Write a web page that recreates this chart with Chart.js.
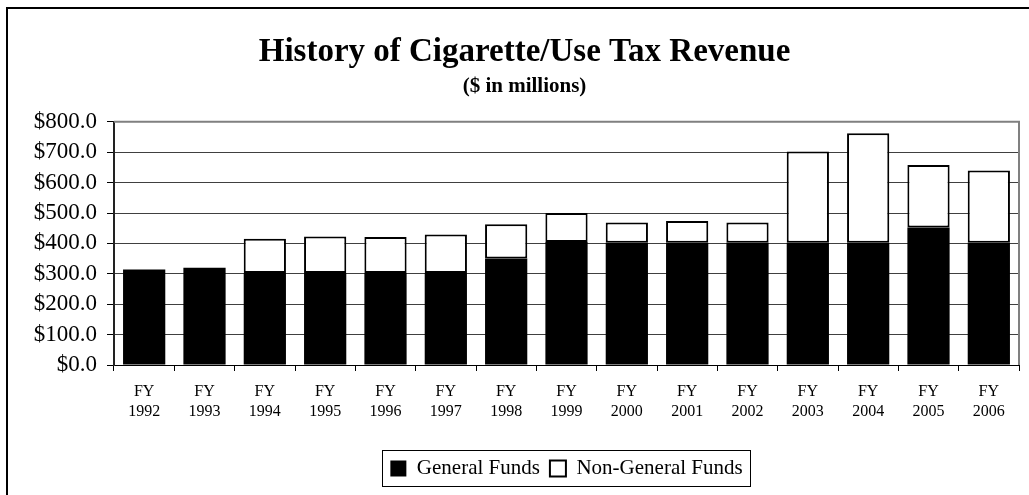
<!DOCTYPE html>
<html>
<head>
<meta charset="utf-8">
<script src="https://cdn.jsdelivr.net/npm/chart.js@4.4.0/dist/chart.umd.min.js"></script>
<style>
  html, body { margin: 0; padding: 0; background: #fff; }
  #wrap { position: relative; width: 1029px; height: 495px; }
</style>
</head>
<body>
<div id="wrap"><canvas id="myChart" width="1029" height="495"></canvas></div>
<script>
// dane wykresu
const years = ['1992', '1993', '1994', '1995', '1996', '1997', '1998', '1999', '2000', '2001', '2002', '2003', '2004', '2005', '2006'];
const generalFunds = [314, 320, 303, 303, 303, 303, 350, 405, 402, 402, 402, 402, 402, 452, 402];
const nonGeneralFunds = [null, null, 112, 120, 118, 126, 113, 95, 67, 72, 67, 300, 360, 206, 238];
const yTicks = [0, 100, 200, 300, 400, 500, 600, 700, 800];

const labels = years.map(y => ['FY', y]);
const serif = 'Liberation Serif, Times New Roman, serif';

// ramka całego obrazka (tylko góra i lewa strona)
const framePlugin = {
  id: 'frame',
  beforeDraw(chart) {
    const ctx = chart.ctx;
    ctx.save();
    ctx.fillStyle = '#fff';
    ctx.fillRect(0, 0, chart.width, chart.height);
    ctx.strokeStyle = '#000';
    ctx.lineWidth = 2;
    ctx.beginPath();
    ctx.moveTo(7, chart.height);
    ctx.lineTo(7, 8);
    ctx.lineTo(chart.width, 8);
    ctx.stroke();
    ctx.restore();
  },
  beforeDatasetsDraw(chart) {
    // szara ramka obszaru wykresu (góra i prawa)
    const a = chart.chartArea;
    const ctx = chart.ctx;
    ctx.save();
    ctx.strokeStyle = '#808080';
    ctx.lineWidth = 2;
    ctx.beginPath();
    ctx.moveTo(a.left, a.top);
    ctx.lineTo(a.right, a.top);
    ctx.lineTo(a.right, a.bottom);
    ctx.stroke();
    ctx.restore();
  },
  afterDraw(chart) {
    // obramowanie legendy
    const boxes = chart.legend.legendHitBoxes;
    if (!boxes || !boxes.length) return;
    const first = boxes[0];
    const last = boxes[boxes.length - 1];
    const left = first.left - 8;
    const right = last.left + last.width + 8;
    const top = first.top - 8;
    const bottom = first.top + first.height + 7;
    const ctx = chart.ctx;
    ctx.save();
    ctx.strokeStyle = '#000';
    ctx.lineWidth = 1;
    ctx.strokeRect(Math.round(left) + 0.5, Math.round(top) + 0.5, Math.round(right - left), Math.round(bottom - top));
    ctx.restore();
  }
};

const ctx = document.getElementById('myChart').getContext('2d');
const chart = new Chart(ctx, {
  type: 'bar',
  data: {
    labels: labels,
    datasets: [{
      label: 'General Funds',
      data: generalFunds,
      backgroundColor: '#000',
      borderColor: '#000',
      borderWidth: 0
    }, {
      label: 'Non-General Funds',
      data: nonGeneralFunds,
      backgroundColor: '#fff',
      borderColor: '#000',
      borderWidth: 2,
      borderSkipped: false
    }]
  },
  plugins: [framePlugin],
  options: {
    responsive: false,
    animation: false,
    devicePixelRatio: 1,
    categoryPercentage: 1.0,
    barPercentage: 0.7,
    layout: { padding: { top: 20, right: 10, bottom: 6, left: 30 } },
    scales: {
      x: {
        stacked: true,
        offset: true,
        grid: {
          offset: true,
          drawOnChartArea: false,
          drawTicks: true,
          tickLength: 6,
          tickColor: '#000'
        },
        border: { display: true, color: '#000', width: 1 },
        ticks: {
          color: '#000',
          font: { family: serif, size: 16, lineHeight: 1.25 },
          padding: 11,
          maxRotation: 0,
          autoSkip: false
        },
        afterFit(scale) { scale.height = 83; }
      },
      y: {
        stacked: true,
        min: 0,
        max: 800,
        afterBuildTicks(scale) { scale.ticks = yTicks.map(v => ({ value: v })); },
        grid: {
          color: '#404040',
          lineWidth: 1,
          tickLength: 7,
          tickColor: '#000'
        },
        border: { display: true, color: '#222', width: 2 },
        ticks: {
          color: '#000',
          font: { family: serif, size: 23 },
          padding: 10,
          autoSkip: false,
          callback: v => '$' + Number(v).toFixed(1)
        },
        afterFit(scale) { scale.width = 84; }
      }
    },
    plugins: {
      title: {
        display: true,
        text: 'History of Cigarette/Use Tax Revenue',
        color: '#000',
        font: { family: serif, size: 33, weight: 'bold', lineHeight: 1.2 },
        padding: { top: 13, bottom: 0 }
      },
      subtitle: {
        display: true,
        text: '($ in millions)',
        color: '#000',
        font: { family: serif, size: 21, weight: 'bold', lineHeight: 1.2 },
        padding: { top: 1, bottom: 23 }
      },
      legend: {
        position: 'bottom',
        fullSize: false,
        labels: {
          color: '#000',
          boxWidth: 16,
          boxHeight: 16,
          padding: 10,
          font: { family: serif, size: 21 }
        }
      },
      tooltip: { enabled: false }
    }
  }
});
</script>
</body>
</html>
